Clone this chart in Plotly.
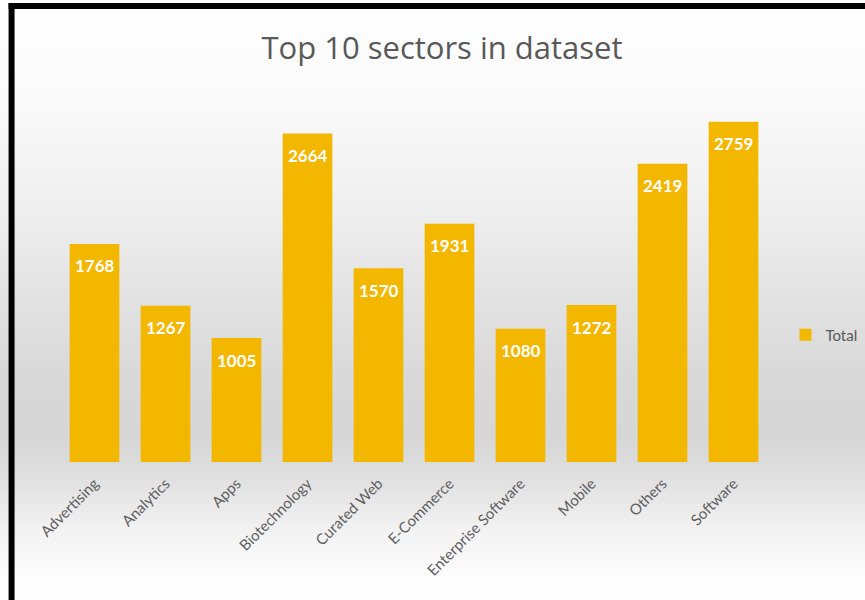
import plotly.graph_objects as go

sectors = ["Advertising", "Analytics", "Apps", "Biotechnology", "Curated Web",
           "E-Commerce", "Enterprise Software", "Mobile", "Others", "Software"]
totals = [1768, 1267, 1005, 2664, 1570, 1931, 1080, 1272, 2419, 2759]

W, H = 865, 600
ML, MR, MT, MB = 58.5, 95.5, 92, 138
PW, PH = W - ML - MR, H - MT - MB


def px_x(x):
    return (x - ML) / PW


def px_y(y):
    return (H - MB - y) / PH


# background gradient stops (pixel y, gray level)
stops = [(0, 255), (100, 250), (200, 240), (300, 226), (380, 216), (440, 214),
         (480, 225), (530, 242), (580, 253), (600, 255)]


def gray_at(y):
    for (y0, g0), (y1, g1) in zip(stops[:-1], stops[1:]):
        if y0 <= y <= y1:
            return g0 + (g1 - g0) * (y - y0) / (y1 - y0)
    return 255


shapes = []
step = 4
for y in range(0, H, step):
    g = int(round(gray_at(y + step / 2)))
    shapes.append(dict(type="rect", xref="paper", yref="paper", layer="below",
                       x0=px_x(-5), x1=px_x(W + 5), y0=px_y(y + step), y1=px_y(y),
                       line=dict(width=0), fillcolor=f"rgb({g},{g},{g})"))

# black frame (left and top)
shapes.append(dict(type="rect", xref="paper", yref="paper", layer="above",
                   x0=px_x(8), x1=px_x(14), y0=px_y(H + 5), y1=px_y(3),
                   line=dict(width=0), fillcolor="black"))
shapes.append(dict(type="rect", xref="paper", yref="paper", layer="above",
                   x0=px_x(8), x1=px_x(W + 5), y0=px_y(9), y1=px_y(3),
                   line=dict(width=0), fillcolor="black"))

fig = go.Figure()
fig.add_trace(go.Bar(
    x=sectors, y=totals, name="Total",
    marker=dict(color="#F4B700", line=dict(width=0)),
))

annotations = []
for s, v in zip(sectors, totals):
    annotations.append(dict(x=s, y=v, xref="x", yref="y", text=f"<b>{v}</b>",
                            showarrow=False, yshift=-22,
                            font=dict(family="Lato", size=17, color="white")))

fig.update_layout(
    width=W, height=H,
    margin=dict(l=ML, r=MR, t=MT, b=MB, autoexpand=False),
    paper_bgcolor="rgba(0,0,0,0)",
    plot_bgcolor="rgba(0,0,0,0)",
    title=dict(text="Top 10 sectors in dataset", x=442 / W, xanchor="center",
               y=1 - 48 / H, yanchor="middle", xref="container", yref="container",
               font=dict(family="Open Sans", size=31, color="#595959")),
    bargap=0.3,
    showlegend=True,
    legend=dict(x=px_x(786), y=px_y(335), xanchor="left", yanchor="middle",
                bgcolor="rgba(0,0,0,0)", itemwidth=30,
                font=dict(family="Lato", size=15, color="#595959")),
    xaxis=dict(tickangle=-45, showgrid=False, showline=False, ticks="outside",
               ticklen=6, tickcolor="rgba(0,0,0,0)",
               tickfont=dict(family="Lato", size=15, color="#5f5f5f")),
    yaxis=dict(range=[0, 3000], visible=False, showgrid=False),
    shapes=shapes,
    annotations=annotations,
)

fig.write_html("out.html")
